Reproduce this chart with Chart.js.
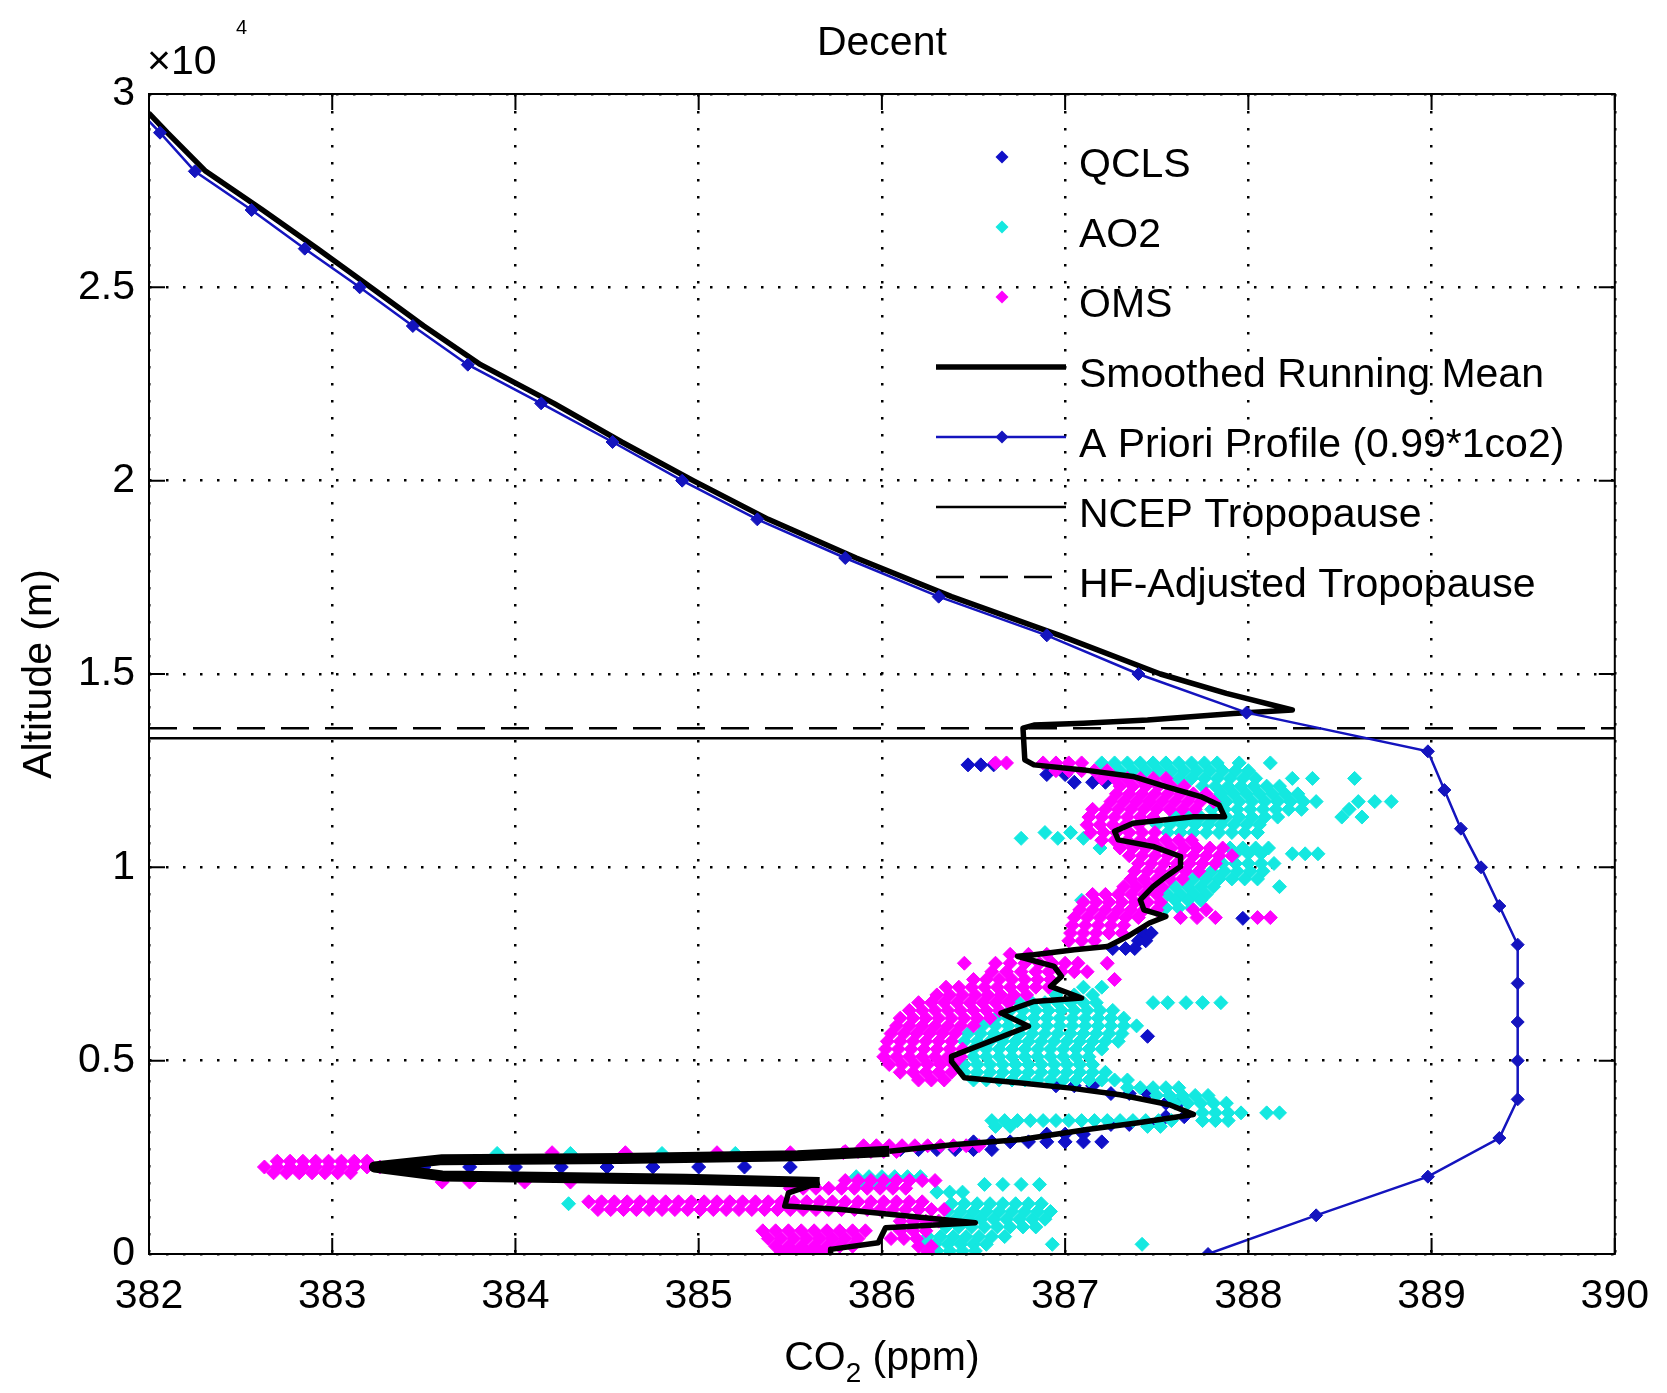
<!DOCTYPE html>
<html>
<head>
<meta charset="utf-8">
<title>Decent</title>
<script src="https://cdn.jsdelivr.net/npm/chart.js@4.4.1/dist/chart.umd.min.js"></script>
<style>
  html, body { margin: 0; padding: 0; background: #fff; }
  #wrap { width: 1667px; height: 1393px; }
</style>
</head>
<body>
<div id="wrap"><canvas id="co2Chart" width="1667" height="1393"></canvas></div>
<script>
// --- axis ticks ---
const co2Ticks = [382, 383, 384, 385, 386, 387, 388, 389, 390];
const altTicks = [0, 5000, 10000, 15000, 20000, 25000, 30000];
const altTickLabels = ['0', '0.5', '1', '1.5', '2', '2.5', '3'];

// --- a priori profile (0.99*1co2) ---
const aprioriAlt = [29800, 29000, 28000, 27000, 26000, 25000, 24000, 23000, 22000, 21000, 20000, 19000, 18000, 17000, 16000, 15000, 14000, 13000, 12000, 11000, 10000, 9000, 8000, 7000, 6000, 5000, 4000, 3000, 2000, 1000, 0];
const aprioriCo2 = [381.90, 382.06, 382.25, 382.56, 382.85, 383.15, 383.44, 383.74, 384.14, 384.53, 384.91, 385.32, 385.80, 386.31, 386.90, 387.40, 387.99, 388.98, 389.07, 389.16, 389.27, 389.37, 389.47, 389.47, 389.47, 389.47, 389.47, 389.37, 388.98, 388.37, 387.78];

// --- tropopause heights (m) ---
const ncepTropopause = 13340;
const hfTropopause = 13600;

// --- smoothed running mean, [co2, altitude] in descent order ---
const smoothPath = [
  [382.00, 29500], [382.10, 29000], [382.31, 28000], [382.62, 27000], [382.92, 26000],
  [383.21, 25000], [383.50, 24000], [383.81, 23000], [384.21, 22000], [384.58, 21000],
  [384.97, 20000], [385.38, 19000], [385.86, 18000], [386.38, 17000], [386.97, 16000],
  [387.52, 15000], [387.88, 14500], [388.24, 14070], [387.92, 13980], [387.45, 13810],
  [387.10, 13725], [386.83, 13680], [386.77, 13600], [386.78, 12780], [386.83, 12650],
  [387.10, 12520], [387.37, 12350], [387.55, 12090], [387.74, 11830], [387.84, 11615],
  [387.87, 11310], [387.70, 11310], [387.37, 11140], [387.27, 10930], [387.29, 10710],
  [387.48, 10540], [387.63, 10280], [387.63, 10020], [387.55, 9760], [387.48, 9500],
  [387.41, 9160], [387.43, 8900], [387.55, 8730], [387.46, 8560], [387.34, 8210],
  [387.23, 7950], [387.05, 7870], [386.83, 7740], [386.74, 7700], [386.94, 7440],
  [386.98, 7180], [386.92, 6920], [387.09, 6620], [386.83, 6530], [386.65, 6230],
  [386.80, 5890], [386.38, 5110], [386.38, 4980], [386.45, 4560], [386.76, 4420],
  [387.03, 4290], [387.30, 4120], [387.57, 3860], [387.70, 3610], [387.39, 3390],
  [387.12, 3220], [386.76, 2960], [386.40, 2830], [386.04, 2660], [385.54, 2540],
  [384.57, 2470], [383.60, 2440], [383.23, 2250], [383.60, 2020], [384.01, 1990],
  [384.93, 1930], [385.66, 1850], [385.49, 1580], [385.47, 1240], [385.78, 1150],
  [386.51, 810], [386.02, 680], [385.98, 290], [385.72, 120], [385.72, 0]
];

// --- scatter measurements, rows of [altitude, [co2 values]] ---
const qclsRows = [
  [12650, [386.47, 386.54, 386.61]],
  [12400, [386.90, 387.00]],
  [12200, [387.05, 387.15, 387.22]],
  [8680, [387.97]],
  [8300, [387.43, 387.47]],
  [8100, [387.40, 387.44]],
  [7900, [387.26, 387.33, 387.38]],
  [5630, [387.45]],
  [4350, [386.95, 387.05, 387.15]],
  [4150, [387.25, 387.35, 387.45]],
  [3900, [387.55, 387.62]],
  [3550, [387.55, 387.65]],
  [3350, [387.25, 387.35, 387.45]],
  [3100, [386.90, 387.00, 387.10]],
  [2900, [386.50, 386.60, 386.70, 386.80, 386.90, 387.00, 387.10, 387.20]],
  [2700, [386.10, 386.20, 386.30, 386.40, 386.50, 386.60]],
  [2250, [383.50, 383.75, 384.00, 384.25, 384.50, 384.75, 385.00, 385.25, 385.50]]
];

const ao2Rows = [
  [12700, [387.20, 387.27, 387.34, 387.41, 387.48, 387.55, 387.62, 387.69, 387.76, 387.83, 387.95, 388.12]],
  [12500, [387.30, 387.37, 387.44, 387.51, 387.58, 387.65, 387.72, 387.79, 387.86, 387.93, 388.00]],
  [12300, [387.62, 387.69, 387.76, 387.83, 387.90, 387.97, 388.04, 388.24, 388.35, 388.58]],
  [12100, [387.75, 387.82, 387.89, 387.96, 388.03, 388.10, 388.17]],
  [11900, [387.85, 387.92, 387.99, 388.06, 388.13, 388.20, 388.27]],
  [11700, [387.88, 387.95, 388.02, 388.09, 388.16, 388.23, 388.30, 388.37, 388.60, 388.69, 388.78]],
  [11500, [387.80, 387.87, 387.94, 388.01, 388.08, 388.15, 388.22, 388.29, 388.55]],
  [11300, [387.60, 387.67, 387.74, 387.81, 387.88, 387.95, 388.02, 388.09, 388.16, 388.51, 388.62]],
  [11100, [387.50, 387.57, 387.64, 387.71, 387.78, 387.85, 387.92, 387.99, 388.06]],
  [10900, [386.89, 387.03, 387.56, 387.63, 387.70, 387.77, 387.84, 387.91, 387.98, 388.05]],
  [10750, [386.76, 386.96, 387.10]],
  [10500, [387.19, 387.90, 387.97, 388.04, 388.11]],
  [10350, [387.93, 388.00, 388.07, 388.24, 388.31, 388.38]],
  [10100, [387.86, 387.93, 388.00, 388.07, 388.14]],
  [9900, [387.80, 387.87, 387.94, 388.01, 388.08]],
  [9700, [387.70, 387.77, 387.84, 387.91, 387.98, 388.05]],
  [9500, [387.60, 387.67, 387.74, 387.81, 388.17]],
  [9300, [387.56, 387.63, 387.70, 387.77]],
  [9150, [387.09, 387.60, 387.67, 387.74]],
  [8950, [387.55, 387.62, 387.69]],
  [6900, [387.10, 387.20]],
  [6700, [386.95, 387.05, 387.15]],
  [6500, [386.75, 386.82, 386.89, 386.96, 387.03, 387.10, 387.17, 387.48, 387.56, 387.66, 387.75, 387.85]],
  [6300, [386.70, 386.77, 386.84, 386.91, 386.98, 387.05, 387.12, 387.19, 387.26]],
  [6100, [386.62, 386.69, 386.76, 386.83, 386.90, 386.97, 387.04, 387.11, 387.18, 387.25, 387.32]],
  [5900, [386.55, 386.62, 386.69, 386.76, 386.83, 386.90, 386.97, 387.04, 387.11, 387.18, 387.25, 387.32, 387.39]],
  [5700, [386.47, 386.54, 386.61, 386.68, 386.75, 386.82, 386.89, 386.96, 387.03, 387.10, 387.17, 387.24, 387.31]],
  [5500, [386.45, 386.52, 386.59, 386.66, 386.73, 386.80, 386.87, 386.94, 387.01, 387.08, 387.15, 387.22, 387.29]],
  [5300, [386.50, 386.57, 386.64, 386.71, 386.78, 386.85, 386.92, 386.99, 387.06, 387.13, 387.20]],
  [5100, [386.50, 386.57, 386.64, 386.71, 386.78, 386.85, 386.92, 386.99, 387.06, 387.13]],
  [4900, [386.45, 386.52, 386.59, 386.66, 386.73, 386.80, 386.87, 386.94, 387.01, 387.08, 387.15]],
  [4700, [386.45, 386.52, 386.59, 386.66, 386.73, 386.80, 386.87, 386.94, 387.01, 387.08, 387.15, 387.22]],
  [4500, [386.50, 386.57, 386.64, 386.71, 386.78, 386.85, 386.92, 386.99, 387.06, 387.13, 387.20, 387.27, 387.34]],
  [4300, [387.34, 387.41, 387.48, 387.55, 387.62]],
  [4100, [387.50, 387.57, 387.64, 387.71, 387.78]],
  [3900, [387.60, 387.67, 387.74, 387.81, 387.88]],
  [3650, [387.75, 387.82, 387.89, 387.96, 388.10, 388.17]],
  [3450, [386.60, 386.67, 386.74, 386.81, 386.88, 386.95, 387.02, 387.09, 387.16, 387.23, 387.30, 387.37, 387.44, 387.51, 387.58, 387.75, 387.82, 387.89]],
  [3300, [386.62, 386.70, 387.45, 387.52]],
  [2600, [383.90, 384.30, 384.80, 385.20]],
  [2000, [385.86, 385.93, 386.00, 386.07, 386.14, 386.21]],
  [1800, [385.90, 385.97, 386.04, 386.56, 386.66, 386.76, 386.86]],
  [1600, [386.30, 386.37, 386.44]],
  [1300, [384.29, 386.38, 386.45, 386.52, 386.59, 386.66, 386.73, 386.80, 386.87]],
  [1100, [386.36, 386.43, 386.50, 386.57, 386.64, 386.71, 386.78, 386.85, 386.92]],
  [900, [386.40, 386.47, 386.54, 386.61, 386.68, 386.75, 386.82, 386.89]],
  [700, [386.35, 386.42, 386.49, 386.56, 386.63, 386.70, 386.77, 386.84]],
  [450, [386.25, 386.32, 386.39, 386.46, 386.53, 386.60, 386.67]],
  [250, [386.22, 386.29, 386.36, 386.43, 386.50, 386.57, 386.93, 387.42]],
  [80, [386.30, 386.37, 386.44, 386.51]]
];

const omsRows = [
  [12700, [386.62, 386.68, 386.88, 386.95, 387.02, 387.09]],
  [12500, [386.95, 387.02, 387.09, 387.16, 387.23]],
  [12300, [387.20, 387.27, 387.34, 387.41, 387.48, 387.55]],
  [12100, [387.30, 387.37, 387.44, 387.51, 387.58, 387.65]],
  [11900, [387.28, 387.35, 387.42, 387.49, 387.56, 387.63, 387.70, 387.77]],
  [11700, [387.25, 387.32, 387.39, 387.46, 387.53, 387.60, 387.67, 387.74, 387.81]],
  [11500, [387.15, 387.22, 387.29, 387.36, 387.43, 387.50, 387.57, 387.64, 387.71]],
  [11300, [387.13, 387.20, 387.27, 387.34, 387.41, 387.48]],
  [11100, [387.12, 387.19, 387.26, 387.33, 387.40]],
  [10900, [387.14, 387.21, 387.28, 387.35, 387.42, 387.49]],
  [10700, [387.20, 387.27, 387.34, 387.41, 387.48, 387.55, 387.62, 387.69]],
  [10500, [387.30, 387.37, 387.44, 387.51, 387.58, 387.65, 387.72, 387.79, 387.86]],
  [10300, [387.35, 387.42, 387.49, 387.56, 387.63, 387.70, 387.77, 387.84, 387.91]],
  [10100, [387.40, 387.47, 387.54, 387.61, 387.68, 387.75, 387.82]],
  [9900, [387.38, 387.45, 387.52, 387.59, 387.66, 387.73]],
  [9700, [387.36, 387.43, 387.50, 387.57, 387.64]],
  [9500, [387.32, 387.39, 387.46, 387.53]],
  [9300, [387.15, 387.22, 387.29, 387.36, 387.43, 387.50]],
  [9100, [387.10, 387.17, 387.24, 387.31, 387.38, 387.45, 387.52]],
  [8900, [387.08, 387.15, 387.22, 387.29, 387.36, 387.43, 387.50, 387.70, 387.77]],
  [8700, [387.05, 387.12, 387.19, 387.26, 387.33, 387.40, 387.63, 387.72, 387.82, 388.05, 388.12]],
  [8500, [387.04, 387.11, 387.18, 387.25, 387.32]],
  [8300, [387.03, 387.10, 387.17, 387.24, 387.31]],
  [8100, [387.02, 387.09, 387.16]],
  [7750, [386.70, 386.80, 386.90]],
  [7520, [386.45, 386.62, 386.70, 386.78, 386.86, 386.93, 387.00, 387.07, 387.23]],
  [7300, [386.60, 386.68, 386.76, 386.84, 386.91, 386.98, 387.05, 387.12]],
  [7100, [386.50, 386.57, 386.64, 386.71, 386.78, 386.85, 386.92, 387.27]],
  [6900, [386.35, 386.42, 386.49, 386.56, 386.63, 386.70, 386.77, 386.84, 386.91]],
  [6700, [386.30, 386.37, 386.44, 386.51, 386.58, 386.65, 386.72, 386.79]],
  [6500, [386.20, 386.27, 386.34, 386.41, 386.48, 386.55, 386.62, 386.69]],
  [6300, [386.15, 386.22, 386.29, 386.36, 386.43, 386.50, 386.57, 386.64]],
  [6100, [386.10, 386.17, 386.24, 386.31, 386.38, 386.45, 386.52, 386.59]],
  [5900, [386.08, 386.15, 386.22, 386.29, 386.36, 386.43, 386.50]],
  [5700, [386.05, 386.12, 386.19, 386.26, 386.33, 386.40]],
  [5500, [386.03, 386.10, 386.17, 386.24, 386.31, 386.38]],
  [5300, [386.02, 386.09, 386.16, 386.23, 386.30, 386.37, 386.44]],
  [5100, [386.01, 386.08, 386.15, 386.22, 386.29, 386.36, 386.43]],
  [4900, [386.04, 386.11, 386.18, 386.25, 386.32, 386.39]],
  [4700, [386.10, 386.17, 386.24, 386.31, 386.38]],
  [4500, [386.20, 386.27, 386.34]],
  [2800, [385.90, 385.97, 386.04, 386.11, 386.18, 386.25, 386.32, 386.39, 386.46, 386.53]],
  [2650, [385.80, 385.87, 385.94, 386.01, 386.08]],
  [2620, [384.20, 384.60, 385.10, 385.50, 385.79]],
  [2400, [382.70, 382.77, 382.84, 382.91, 382.98, 383.05, 383.12, 383.19]],
  [2250, [382.63, 382.70, 382.77, 382.84, 382.91, 382.98, 383.05, 383.12, 383.19, 383.26]],
  [2100, [382.68, 382.75, 382.82, 382.89, 382.96, 383.03, 383.10]],
  [1860, [383.60, 383.75, 384.05, 384.30]],
  [1900, [385.80, 385.87, 385.94, 386.01, 386.08, 386.15, 386.22, 386.29]],
  [1700, [385.50, 385.57, 385.64, 385.71, 385.78, 385.85, 385.92, 385.99, 386.06, 386.13]],
  [1350, [384.40, 384.47, 384.54, 384.61, 384.68, 384.75, 384.82, 384.89, 384.96, 385.03, 385.10, 385.17, 385.24, 385.31, 385.38, 385.45, 385.52, 385.59, 385.66, 385.73, 385.80, 385.87, 385.94, 386.01, 386.08, 386.15, 386.22]],
  [1150, [384.45, 384.52, 384.59, 384.66, 384.73, 384.80, 384.87, 384.94, 385.01, 385.08, 385.15, 385.22, 385.29, 385.36, 385.43, 385.50, 385.57, 385.64, 385.71, 385.78, 385.85, 385.92, 385.99, 386.06, 386.13, 386.20, 386.27, 386.34]],
  [850, [386.10, 386.17, 386.24, 386.31]],
  [600, [385.35, 385.42, 385.49, 385.56, 385.63, 385.70, 385.77, 385.84, 385.91, 386.10, 386.17, 386.24]],
  [400, [385.38, 385.45, 385.52, 385.59, 385.66, 385.73, 385.80, 385.87, 386.05, 386.12, 386.19]],
  [200, [385.42, 385.49, 385.56, 385.63, 385.70, 385.77, 385.84, 386.20, 386.27]],
  [50, [385.45, 385.52, 385.59, 385.66, 386.25]]
];

const FONT = '"Liberation Sans", Arial, Helvetica, sans-serif';
const QCLS_COLOR = 'rgb(16,16,200)';
const AO2_COLOR = 'rgb(20,232,224)';
const OMS_COLOR = 'rgb(255,0,255)';
const APRIORI_COLOR = 'rgb(20,20,190)';

const rowsToPoints = rows => rows.flatMap(([alt, co2s]) => co2s.map(c => ({ x: c, y: alt })));
const pairsToPoints = pairs => pairs.map(([c, a]) => ({ x: c, y: a }));

// the running mean is drawn heavier through the low level spike
const isSpikeSegment = seg =>
    seg.p0.parsed.x <= 386.05 && seg.p1.parsed.x <= 386.05 &&
    seg.p0.parsed.y > 1800 && seg.p0.parsed.y < 2700 &&
    seg.p1.parsed.y > 1800 && seg.p1.parsed.y < 2700;

Chart.defaults.font.family = FONT;
Chart.defaults.font.size = 41;
Chart.defaults.color = '#000';

// draws the matlab style box, inward ticks, legend and axis extras
const matlabFrame = {
    id: 'matlabFrame',
    afterDatasetsDraw(chart) {
        const { ctx, chartArea: a, scales: { x, y } } = chart;
        ctx.save();
        ctx.strokeStyle = '#000';
        ctx.lineWidth = 2;
        ctx.strokeRect(a.left, a.top, a.right - a.left, a.bottom - a.top);
        ctx.beginPath();
        x.ticks.forEach(t => {
            const px = x.getPixelForValue(t.value);
            ctx.moveTo(px, a.bottom); ctx.lineTo(px, a.bottom - 16);
            ctx.moveTo(px, a.top); ctx.lineTo(px, a.top + 16);
        });
        y.ticks.forEach(t => {
            const py = y.getPixelForValue(t.value);
            ctx.moveTo(a.left, py); ctx.lineTo(a.left + 16, py);
            ctx.moveTo(a.right, py); ctx.lineTo(a.right - 16, py);
        });
        ctx.stroke();
        ctx.restore();
    },
    afterDraw(chart) {
        const { ctx, chartArea: a } = chart;
        const cx = (a.left + a.right) / 2;
        ctx.save();
        ctx.fillStyle = '#000';
        ctx.textBaseline = 'alphabetic';

        // title centred on the axes
        ctx.font = `41px ${FONT}`;
        ctx.textAlign = 'center';
        ctx.fillText('Decent', cx, 55);

        // exponent label over the y axis
        ctx.textAlign = 'left';
        ctx.fillText('\u00d710', a.left - 2, 74);
        ctx.font = `20px ${FONT}`;
        ctx.fillText('4', a.left + 87, 34);

        // x axis title with subscript
        ctx.font = `41px ${FONT}`;
        const wCO = ctx.measureText('CO').width;
        const wRest = ctx.measureText(' (ppm)').width;
        ctx.font = `28px ${FONT}`;
        const wSub = ctx.measureText('2').width;
        let tx = cx - (wCO + wSub + wRest) / 2;
        ctx.font = `41px ${FONT}`;
        ctx.fillText('CO', tx, 1370);
        tx += wCO;
        ctx.font = `28px ${FONT}`;
        ctx.fillText('2', tx, 1382);
        tx += wSub;
        ctx.font = `41px ${FONT}`;
        ctx.fillText(' (ppm)', tx, 1370);

        // legend inside the axes, no box
        chart.data.datasets.forEach((ds, i) => {
            const rowY = 162 + i * 70;
            const sy = rowY - 5;
            if (ds.showLine) {
                ctx.beginPath();
                ctx.setLineDash(ds.borderDash || []);
                ctx.lineWidth = ds.borderWidth;
                ctx.strokeStyle = ds.borderColor;
                ctx.moveTo(936, sy);
                ctx.lineTo(1066, sy);
                ctx.stroke();
                ctx.setLineDash([]);
            }
            if (ds.pointRadius > 0) {
                const r = 6.5;
                ctx.beginPath();
                ctx.moveTo(1002, sy - r);
                ctx.lineTo(1002 + r, sy);
                ctx.lineTo(1002, sy + r);
                ctx.lineTo(1002 - r, sy);
                ctx.closePath();
                ctx.fillStyle = ds.backgroundColor;
                ctx.fill();
            }
            ctx.fillStyle = '#000';
            ctx.font = `41px ${FONT}`;
            ctx.fillText(ds.label, 1079, rowY + 15);
        });
        ctx.restore();
    }
};

const scatterStyle = color => ({
    showLine: false,
    pointStyle: 'rectRot',
    pointRadius: 7,
    pointBorderWidth: 1,
    backgroundColor: color,
    borderColor: color
});

const ctx = document.getElementById('co2Chart').getContext('2d');
const co2Chart = new Chart(ctx, {
    type: 'scatter',
    data: {
        datasets: [{
            label: 'QCLS',
            data: rowsToPoints(qclsRows),
            ...scatterStyle(QCLS_COLOR),
            order: 6
        }, {
            label: 'AO2',
            data: rowsToPoints(ao2Rows),
            ...scatterStyle(AO2_COLOR),
            order: 5
        }, {
            label: 'OMS',
            data: rowsToPoints(omsRows),
            ...scatterStyle(OMS_COLOR),
            order: 4
        }, {
            label: 'Smoothed Running Mean',
            data: pairsToPoints(smoothPath),
            showLine: true,
            borderColor: '#000',
            backgroundColor: '#000',
            borderWidth: 5.5,
            borderJoinStyle: 'round',
            segment: { borderWidth: seg => (isSpikeSegment(seg) ? 11 : 5.5) },
            pointRadius: 0,
            order: 1
        }, {
            label: 'A Priori Profile (0.99*1co2)',
            data: aprioriCo2.map((c, i) => ({ x: c, y: aprioriAlt[i] })),
            showLine: true,
            borderColor: APRIORI_COLOR,
            backgroundColor: APRIORI_COLOR,
            borderWidth: 2.5,
            pointStyle: 'rectRot',
            pointRadius: 6.5,
            pointBorderWidth: 1,
            order: 0
        }, {
            label: 'NCEP Tropopause',
            data: [{ x: 382, y: ncepTropopause }, { x: 390, y: ncepTropopause }],
            showLine: true,
            borderColor: '#000',
            backgroundColor: '#000',
            borderWidth: 2.5,
            pointRadius: 0,
            order: 2
        }, {
            label: 'HF-Adjusted Tropopause',
            data: [{ x: 382, y: hfTropopause }, { x: 390, y: hfTropopause }],
            showLine: true,
            borderColor: '#000',
            backgroundColor: '#000',
            borderWidth: 2.5,
            borderDash: [28, 16],
            pointRadius: 0,
            order: 3
        }]
    },
    options: {
        responsive: false,
        animation: false,
        events: [],
        layout: { padding: { left: 0, right: 42, top: 94, bottom: 0 } },
        plugins: {
            legend: { display: false },
            tooltip: { enabled: false },
            title: { display: false }
        },
        scales: {
            x: {
                type: 'linear',
                position: 'bottom',
                min: 382,
                max: 390,
                afterFit: scale => { scale.height = 139; },
                afterBuildTicks: scale => { scale.ticks = co2Ticks.map(v => ({ value: v })); },
                ticks: { padding: 18, maxRotation: 0, autoSkip: false, callback: v => String(v) },
                grid: { color: '#000', lineWidth: 2.5, drawTicks: false },
                border: { display: false, dash: [2.5, 14.5] }
            },
            y: {
                type: 'linear',
                position: 'left',
                min: 0,
                max: 30000,
                afterFit: scale => { scale.width = 149; },
                afterBuildTicks: scale => { scale.ticks = altTicks.map(v => ({ value: v })); },
                ticks: { padding: 14, autoSkip: false, callback: v => altTickLabels[altTicks.indexOf(v)] },
                title: { display: true, text: 'Altitude (m)', font: { size: 41 }, padding: { top: 15, bottom: 0 } },
                grid: { color: '#000', lineWidth: 2.5, drawTicks: false },
                border: { display: false, dash: [2.5, 14.5] }
            }
        }
    },
    plugins: [matlabFrame]
});
</script>
</body>
</html>
